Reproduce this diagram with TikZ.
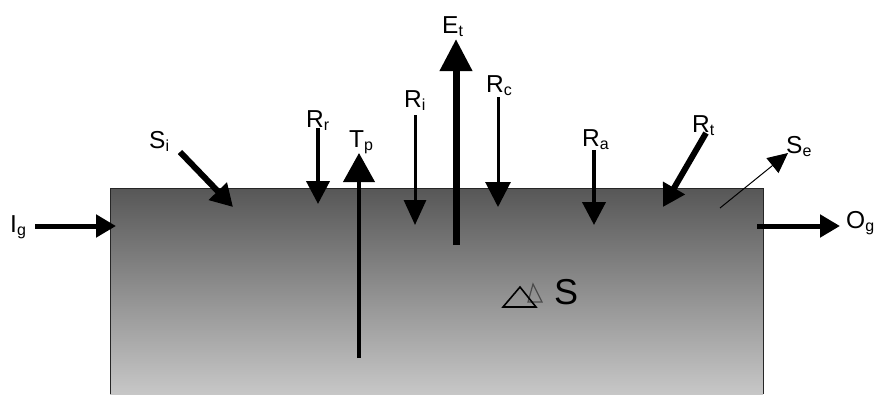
\documentclass[tikz,border=0pt]{standalone}
\usepackage{fontspec}
\setmainfont{Liberation Sans}
\usetikzlibrary{arrows.meta}
\newcommand{\flowlbl}[2]{#1\raisebox{-3pt}{\fontsize{16}{16}\selectfont #2}}

\begin{document}
\begin{tikzpicture}[x=1pt, y=-1pt,
  lbl/.style={anchor=base west, inner sep=0pt, font=\fontsize{24.5}{27}\selectfont},
  flow/.style n args={3}{line width=#1, -{Triangle[length=#2, width=#3]}},
  store/.style={top color=black!66, bottom color=black!22}
]
  \useasboundingbox (0,0) rectangle (877,394);
  \shade[store] (110,188) rectangle (763,394);
  \draw[black!85, line width=1pt] (110,394) -- (110,188) -- (763,188) -- (763,394);

  \node[lbl] (Ig) at (10,232) {\flowlbl{I}{g}};
  \node[lbl] (Si) at (149,148) {\flowlbl{S}{i}};
  \node[lbl] (Rr) at (306,127) {\flowlbl{R}{r}};
  \node[lbl] (Tp) at (349,147) {\flowlbl{T}{p}};
  \node[lbl] (Ri) at (404,107) {\flowlbl{R}{i}};
  \node[lbl] (Et) at (442,33) {\flowlbl{E}{t}};
  \node[lbl] (Rc) at (486,92) {\flowlbl{R}{c}};
  \node[lbl] (Ra) at (582,146) {\flowlbl{R}{a}};
  \node[lbl] (Rt) at (692,132) {\flowlbl{R}{t}};
  \node[lbl] (Se) at (786,153) {\flowlbl{S}{e}};
  \node[lbl] (Og) at (846,228) {\flowlbl{O}{g}};
  \node[anchor=base west, inner sep=0pt, font=\fontsize{36}{40}\selectfont] (dS) at (554,304) {S};

  \coordinate (Ig-a) at (35,226);   \coordinate (Ig-b) at (116,226);
  \coordinate (Og-a) at (757,226);  \coordinate (Og-b) at (840,226);
  \coordinate (Si-a) at (180,152);  \coordinate (Si-b) at (233,207);
  \coordinate (Rr-a) at (318,128);  \coordinate (Rr-b) at (318,204);
  \coordinate (Tp-a) at (359,358);  \coordinate (Tp-b) at (359,153);
  \coordinate (Ri-a) at (415,115);  \coordinate (Ri-b) at (415,225);
  \coordinate (Et-a) at (456,245);  \coordinate (Et-b) at (456,39);
  \coordinate (Rc-a) at (498,97);   \coordinate (Rc-b) at (498,207);
  \coordinate (Ra-a) at (594,150);  \coordinate (Ra-b) at (594,225);
  \coordinate (Rt-a) at (706,133);  \coordinate (Rt-b) at (663,207);
  \coordinate (Se-a) at (720,208);  \coordinate (Se-b) at (788,153);

  \draw[flow={5pt}{20pt}{22pt}] (Ig-a) -- (Ig-b);
  \draw[flow={5pt}{20pt}{22pt}] (Og-a) -- (Og-b);
  \draw[flow={6pt}{22pt}{24pt}] (Si-a) -- (Si-b);
  \draw[flow={4pt}{23pt}{23pt}] (Rr-a) -- (Rr-b);
  \draw[flow={4pt}{29pt}{31pt}] (Tp-a) -- (Tp-b);
  \draw[flow={3pt}{25pt}{22pt}] (Ri-a) -- (Ri-b);
  \draw[flow={7pt}{32pt}{31pt}] (Et-a) -- (Et-b);
  \draw[flow={3pt}{25pt}{25pt}] (Rc-a) -- (Rc-b);
  \draw[flow={4pt}{23pt}{23pt}] (Ra-a) -- (Ra-b);
  \draw[flow={6pt}{22pt}{24pt}] (Rt-a) -- (Rt-b);
  \draw[flow={1pt}{20pt}{19pt}] (Se-a) -- (Se-b);

  \draw[black!70, line width=1.2pt] (528,302) -- (533,284) -- (542,302) -- cycle;
  \draw[line width=1.6pt] (503,307) -- (520,287) -- (536,307) -- cycle;
\end{tikzpicture}
\end{document}
